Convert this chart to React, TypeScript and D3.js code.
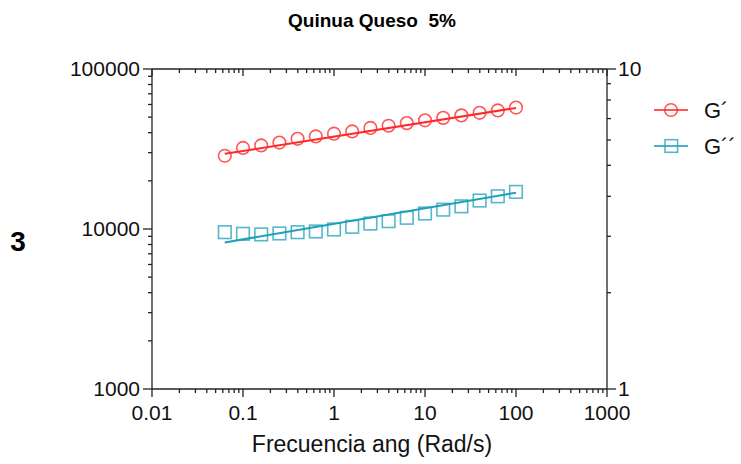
import React, { useEffect, useRef } from "react";
import * as d3 from "d3";

const title = "Quinua Queso  5%";
const panelLabel = "3";
const xTitle = "Frecuencia ang (Rad/s)";
const freq = [0.0631, 0.1, 0.1585, 0.2512, 0.3981, 0.631, 1, 1.585, 2.512, 3.981, 6.31, 10, 15.85, 25.12, 39.81, 63.1, 100];
const gPrime = [28700, 32100, 33300, 34700, 36600, 37900, 39400, 40700, 42800, 44200, 45900, 47800, 49500, 51300, 53200, 55100, 57400];
const gDouble = [9550, 9330, 9250, 9380, 9550, 9650, 9930, 10320, 10810, 11190, 11750, 12500, 13210, 13860, 15060, 16010, 17060];
// power-law fit line values at the first and last frequency
const gPrimeFit = [29500, 57100];
const gDoubleFit = [8240, 16870];
const xTicks = [0.01, 0.1, 1, 10, 100, 1000];
const xTickLabels = ["0.01", "0.1", "1", "10", "100", "1000"];
const yTicks = [1000, 10000, 100000];
const y2Ticks = [1, 10];
const legendNames = ["G´", "G´´"];

const RED = "#ff2a2a";
const TEAL = "#1f9fb8";

export default function App() {
  const ref = useRef<SVGSVGElement>(null);
  useEffect(() => {
    const svg = d3.select(ref.current);
    svg.selectAll("*").remove();
    const L = 152, R = 607, T = 69, B = 389;
    const x = d3.scaleLog().domain([0.01, 1000]).range([L, R]);
    const y = d3.scaleLog().domain([1000, 100000]).range([B, T]);
    const y2 = d3.scaleLog().domain([1, 10]).range([B, T]);
    const font = "'Liberation Sans', Arial, sans-serif";

    svg.append("text").attr("x", 372).attr("y", 27).attr("text-anchor", "middle")
      .style("white-space", "pre").attr("xml:space", "preserve")
      .attr("font-family", font).attr("font-weight", "bold").attr("font-size", 19).text(title);
    svg.append("text").attr("x", 18).attr("y", 251).attr("text-anchor", "middle")
      .attr("font-family", font).attr("font-weight", "bold").attr("font-size", 28).text(panelLabel);

    const g = svg.append("g").attr("stroke", "#222").attr("stroke-width", 1.3);
    g.append("line").attr("x1", L).attr("x2", R).attr("y1", T).attr("y2", T);
    g.append("line").attr("x1", L).attr("x2", R).attr("y1", B).attr("y2", B);
    g.append("line").attr("x1", L).attr("x2", L).attr("y1", T).attr("y2", B);
    g.append("line").attr("x1", R).attr("x2", R).attr("y1", T).attr("y2", B);

    const xMinor: number[] = [];
    for (let e = -2; e < 3; e++) for (let k = 2; k <= 9; k++) xMinor.push(k * Math.pow(10, e));
    const yMinor: number[] = [];
    for (let e = 3; e < 5; e++) for (let k = 2; k <= 9; k++) yMinor.push(k * Math.pow(10, e));
    const y2Minor: number[] = [];
    for (let k = 2; k <= 9; k++) y2Minor.push(k);

    xTicks.forEach(v => g.append("line").attr("x1", x(v)).attr("x2", x(v)).attr("y1", B).attr("y2", B + 8));
    xMinor.forEach(v => g.append("line").attr("x1", x(v)).attr("x2", x(v)).attr("y1", B).attr("y2", B + 4));
    xTicks.forEach(v => g.append("line").attr("x1", x(v)).attr("x2", x(v)).attr("y1", T).attr("y2", T + 7));
    xMinor.forEach(v => g.append("line").attr("x1", x(v)).attr("x2", x(v)).attr("y1", T).attr("y2", T + 4));
    yTicks.forEach(v => g.append("line").attr("x1", L - 9).attr("x2", L).attr("y1", y(v)).attr("y2", y(v)));
    yMinor.forEach(v => g.append("line").attr("x1", L - 4).attr("x2", L).attr("y1", y(v)).attr("y2", y(v)));
    y2Ticks.forEach(v => g.append("line").attr("x1", R).attr("x2", R + 9).attr("y1", y2(v)).attr("y2", y2(v)));
    y2Minor.forEach(v => g.append("line").attr("x1", R).attr("x2", R + 4).attr("y1", y2(v)).attr("y2", y2(v)));

    const lab = svg.append("g").attr("font-family", font).attr("font-size", 21).attr("fill", "#111");
    xTicks.forEach((v, i) => lab.append("text").attr("x", x(v)).attr("y", B + 31).attr("text-anchor", "middle").text(xTickLabels[i]));
    yTicks.forEach(v => lab.append("text").attr("x", L - 12).attr("y", y(v) + 7).attr("text-anchor", "end").text(String(v)));
    y2Ticks.forEach(v => lab.append("text").attr("x", R + 11).attr("y", y2(v) + 7).attr("text-anchor", "start").text(String(v)));
    lab.append("text").attr("x", 372).attr("y", 452).attr("font-size", 23).attr("text-anchor", "middle").text(xTitle);

    const series = [
      { data: gPrime, fit: gPrimeFit, color: RED, shape: "circle" },
      { data: gDouble, fit: gDoubleFit, color: TEAL, shape: "square" },
    ];
    series.forEach(s => {
      const x0 = freq[0], x1 = freq[freq.length - 1];
      svg.append("line").attr("x1", x(x0)).attr("y1", y(s.fit[0])).attr("x2", x(x1)).attr("y2", y(s.fit[1]))
        .attr("stroke", s.color).attr("stroke-width", 2);
      freq.forEach((fv, i) => {
        if (s.shape === "circle") {
          svg.append("circle").attr("cx", x(fv)).attr("cy", y(s.data[i])).attr("r", 6.3)
            .attr("fill", "none").attr("stroke", s.color).attr("stroke-width", 1.6).attr("stroke-opacity", 0.8);
        } else {
          svg.append("rect").attr("x", x(fv) - 6.3).attr("y", y(s.data[i]) - 6.3).attr("width", 12.6).attr("height", 12.6)
            .attr("fill", "none").attr("stroke", s.color).attr("stroke-width", 1.6).attr("stroke-opacity", 0.75);
        }
      });
    });

    series.forEach((s, i) => {
      const ly = 110 + i * 36;
      const lg = svg.append("g");
      lg.append("line").attr("x1", 654).attr("x2", 688).attr("y1", ly).attr("y2", ly)
        .attr("stroke", s.color).attr("stroke-width", 1.8).attr("stroke-opacity", 0.8);
      if (s.shape === "circle") {
        lg.append("circle").attr("cx", 671).attr("cy", ly).attr("r", 6.3).attr("fill", "none")
          .attr("stroke", s.color).attr("stroke-width", 1.6).attr("stroke-opacity", 0.8);
      } else {
        lg.append("rect").attr("x", 665).attr("y", ly - 6.3).attr("width", 12.6).attr("height", 12.6).attr("fill", "none")
          .attr("stroke", s.color).attr("stroke-width", 1.6).attr("stroke-opacity", 0.75);
      }
      lg.append("text").attr("x", 704).attr("y", ly + 8).attr("font-family", font).attr("font-size", 22)
        .attr("fill", "#111").text(legendNames[i]);
    });
  }, []);
  return (
    <svg ref={ref} width={741} height={464} style={{ position: "absolute", left: 0, top: 0, background: "#fff" }} />
  );
}
